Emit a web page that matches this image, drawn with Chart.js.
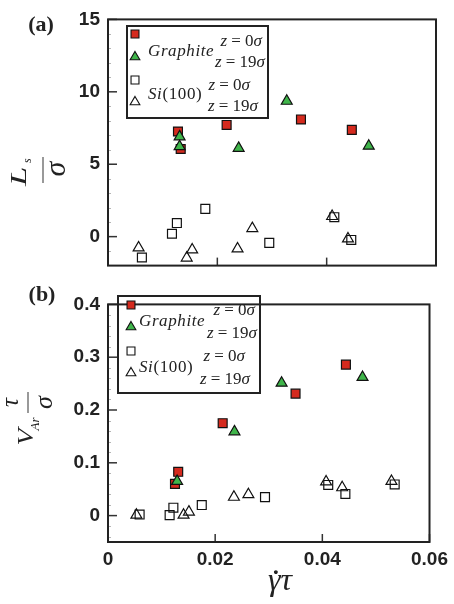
<!DOCTYPE html>
<html><head><meta charset="utf-8">
<script src="https://cdn.jsdelivr.net/npm/chart.js@4"></script>
<style>
html,body{margin:0;padding:0;background:#fff;width:454px;height:604px;overflow:hidden}
canvas{position:absolute;left:0}
#ca{top:0}
#cb{top:285px}
</style></head><body>
<canvas id="ca" width="454" height="285" style="width:454px;height:285px"></canvas>
<canvas id="cb" width="454" height="319" style="width:454px;height:319px"></canvas>
<script>
// ---------- data: panel (a) slip length L_s/sigma ----------
const grA0_x = [0.0128, 0.0133, 0.0217, 0.0353, 0.0446];
const grA0_y = [7.26, 6.05, 7.71, 8.09, 7.37];
const grA19_x = [0.0131, 0.0131, 0.0239, 0.0327, 0.0477];
const grA19_y = [6.90, 6.22, 6.11, 9.36, 6.26];
const siA0_x = [0.0062, 0.0117, 0.0126, 0.0178, 0.0295, 0.0414, 0.0445];
const siA0_y = [-1.44, 0.20, 0.94, 1.92, -0.43, 1.34, -0.23];
const siA19_x = [0.0056, 0.0144, 0.0154, 0.0237, 0.0264, 0.0410, 0.0439];
const siA19_y = [-0.77, -1.47, -0.91, -0.84, 0.57, 1.40, -0.15];
// ---------- data: panel (b) slip velocity V_Ar tau/sigma ----------
const grB0_x = [0.0125, 0.0131, 0.0214, 0.0350, 0.0444];
const grB0_y = [0.060, 0.083, 0.175, 0.231, 0.286];
const grB19_x = [0.0129, 0.0236, 0.0324, 0.0475];
const grB19_y = [0.065, 0.159, 0.251, 0.262];
const siB0_x = [0.0059, 0.0115, 0.0122, 0.0175, 0.0293, 0.0411, 0.0443, 0.0535];
const siB0_y = [0.002, 0.001, 0.015, 0.020, 0.035, 0.058, 0.041, 0.059];
const siB19_x = [0.0053, 0.0141, 0.0151, 0.0235, 0.0262, 0.0407, 0.0437, 0.0529];
const siB19_y = [0.001, 0.001, 0.007, 0.035, 0.040, 0.064, 0.053, 0.065];
// ---------- ticks ----------
const xTicks = [0, 0.02, 0.04, 0.06];
const yTicksA = [0, 5, 10, 15];
const yMinorA = [-1, 1, 2, 3, 4, 6, 7, 8, 9, 11, 12, 13, 14];
const yTicksB = [0, 0.1, 0.2, 0.3, 0.4];
const yMinorB = [-0.04, -0.02, 0.02, 0.04, 0.06, 0.08, 0.12, 0.14, 0.16, 0.18, 0.22, 0.24, 0.26, 0.28, 0.32, 0.34, 0.36, 0.38];
const legendLabels = ['Graphite', 'Si(100)', 'z = 0σ', 'z = 19σ'];

const RED = '#d52a1e', GREEN = '#3fb54a', INK = '#222';
const SERIF = '"Liberation Serif","Times New Roman",serif';
const SANS = '"Liberation Sans",Arial,sans-serif';

function pts(xs, ys){ return xs.map((x,i)=>({x:x, y:ys[i]})); }
const styles = {
  gr0:  {pointStyle:'rect', backgroundColor:RED, borderColor:'#111', order:2},
  gr19: {pointStyle:'triangle', backgroundColor:GREEN, borderColor:'#111', order:1},
  si0:  {pointStyle:'rect', backgroundColor:'rgba(0,0,0,0)', borderColor:'#111', order:4},
  si19: {pointStyle:'triangle', backgroundColor:'rgba(0,0,0,0)', borderColor:'#111', order:3}
};
function ds(key, data){
  const s = styles[key];
  return {data:data, showLine:false, pointStyle:s.pointStyle, backgroundColor:s.backgroundColor,
    borderColor:s.borderColor, pointRadius:6.3, pointBorderWidth:1.2, pointHoverRadius:6.3, order:s.order};
}

function rich(ctx, parts, x, y, align){
  let w = 0;
  parts.forEach(p=>{ ctx.font = p[1]; w += ctx.measureText(p[0]).width; });
  let cx = align==='right' ? x - w : (align==='center' ? x - w/2 : x);
  ctx.textAlign = 'left';
  parts.forEach(p=>{ ctx.font = p[1]; ctx.fillText(p[0], cx, y); cx += ctx.measureText(p[0]).width; });
}
function marker(ctx, key, x, y, r){
  const s = styles[key];
  ctx.save();
  ctx.fillStyle = s.backgroundColor; ctx.strokeStyle = s.borderColor; ctx.lineWidth = 1.1;
  if (Chart.helpers && Chart.helpers.drawPoint) {
    Chart.helpers.drawPoint(ctx, {pointStyle:s.pointStyle, radius:r, rotation:0, borderWidth:1.1}, x, y);
  } else {
    ctx.beginPath();
    if (s.pointStyle==='rect'){ const h=r*Math.SQRT1_2; ctx.rect(x-h,y-h,2*h,2*h); }
    else { ctx.moveTo(x, y-r); ctx.lineTo(x+0.866*r, y+0.5*r); ctx.lineTo(x-0.866*r, y+0.5*r); ctx.closePath(); }
    ctx.fill(); ctx.stroke();
  }
  ctx.restore();
}

const framePlugin = {
  id: 'frame',
  afterDatasetsDraw(chart, args, o){
    const ctx = chart.ctx, a = chart.chartArea, xs = chart.scales.x, ys = chart.scales.y;
    ctx.save();
    ctx.strokeStyle = '#b5b5b5'; ctx.lineWidth = 1;
    o.yMinor.forEach(v=>{ const p = Math.round(ys.getPixelForValue(v))+0.5; ctx.beginPath(); ctx.moveTo(a.left, p); ctx.lineTo(a.left+3, p); ctx.stroke(); });
    ctx.strokeStyle = '#333'; ctx.lineWidth = 1.5;
    o.yMajor.forEach(v=>{ const p = ys.getPixelForValue(v); ctx.beginPath(); ctx.moveTo(a.left, p); ctx.lineTo(a.left+9, p); ctx.stroke(); });
    o.xMajor.forEach(v=>{ const p = xs.getPixelForValue(v); ctx.beginPath(); ctx.moveTo(p, a.bottom); ctx.lineTo(p, a.bottom-8); ctx.stroke(); });
    ctx.strokeStyle = INK; ctx.lineWidth = 2;
    ctx.strokeRect(a.left, a.top, a.right-a.left, a.bottom-a.top);
    ctx.restore();
  },
  afterDraw(chart, args, o){
    const ctx = chart.ctx;
    ctx.save();
    ctx.fillStyle = INK; ctx.strokeStyle = INK;
    ctx.font = 'bold 22px ' + SERIF; ctx.textAlign = 'center'; ctx.textBaseline = 'middle';
    ctx.fillText(o.letter[0], o.letter[1], o.letter[2]);
    const L = o.legend;
    ctx.lineWidth = 2; ctx.strokeStyle = INK;
    ctx.strokeRect(L.box[0], L.box[1], L.box[2]-L.box[0], L.box[3]-L.box[1]);
    ['gr0','gr19','si0','si19'].forEach((k,i)=> marker(ctx, k, L.mx, L.my[i], 5.6));
    ctx.textBaseline = 'middle'; ctx.fillStyle = INK;
    const I = 'italic 17px ' + SERIF, R = '17px ' + SERIF;
    try { ctx.letterSpacing = '0.6px'; } catch(e){}
    rich(ctx, [[legendLabels[0], I]], L.t[0][0], L.t[0][1], 'left');
    rich(ctx, [[legendLabels[1].slice(0,2), I], [legendLabels[1].slice(2), R]], L.t[1][0], L.t[1][1], 'left');
    try { ctx.letterSpacing = '0px'; } catch(e){}
    const z0 = [['z', I], [' = 0', R], ['σ', I]], z19 = [['z', I], [' = 19', R], ['σ', I]];
    rich(ctx, z0, L.t[2][0], L.t[2][1], 'right');
    rich(ctx, z19, L.t[3][0], L.t[3][1], 'right');
    rich(ctx, z0, L.t[4][0], L.t[4][1], 'right');
    rich(ctx, z19, L.t[5][0], L.t[5][1], 'right');
    o.ytitle(ctx);
    if (o.xtitle) o.xtitle(ctx);
    ctx.restore();
  }
};

function scaleOpts(yMin, yMax, yT, showX){
  return {
    x: {type:'linear', min:0, max:0.06,
        afterBuildTicks: s => { s.ticks = xTicks.map(v=>({value:v})); },
        afterFit: s => { s.height = showX ? 62 : 13; },
        grid:{display:false, drawTicks:false}, border:{display:false},
        ticks:{display:showX, padding:6, color:INK, font:{family:SANS, size:19, weight:'bold'}, maxRotation:0,
               callback: v => String(v)}},
    y: {type:'linear', min:yMin, max:yMax,
        afterBuildTicks: s => { s.ticks = yT.map(v=>({value:v})); },
        afterFit: s => { s.width = 108; },
        grid:{display:false, drawTicks:false}, border:{display:false},
        ticks:{padding:8, color:INK, font:{family:SANS, size:19, weight:'bold'}, callback: v => String(v)}}
  };
}
const common = {responsive:false, animation:false, events:[],
  plugins:{legend:{display:false}, tooltip:{enabled:false}}};

new Chart(document.getElementById('ca'), {
  type:'scatter',
  data:{datasets:[ds('gr19', pts(grA19_x, grA19_y)), ds('gr0', pts(grA0_x, grA0_y)),
                  ds('si19', pts(siA19_x, siA19_y)), ds('si0', pts(siA0_x, siA0_y))]},
  options:Object.assign({}, common, {
    layout:{padding:{left:0, right:18, top:19, bottom:0}},
    scales: scaleOpts(-2, 15, yTicksA, false),
    plugins:{legend:{display:false}, tooltip:{enabled:false},
      frame:{yMajor:yTicksA, yMinor:yMinorA, xMajor:xTicks, letter:['(a)', 41, 25],
        legend:{box:[127,26,268,118], mx:135, my:[34,57,80,102],
          t:[[148,52],[148,95],[262,42],[265,63],[250,86],[258,107]]},
        ytitle: ctx => {
          ctx.save(); ctx.translate(43,170); ctx.rotate(-Math.PI/2);
          ctx.lineWidth = 1.2; ctx.strokeStyle = '#555';
          ctx.beginPath(); ctx.moveTo(-13,0); ctx.lineTo(13,0); ctx.stroke();
          ctx.fillStyle = INK; ctx.textAlign = 'left'; ctx.textBaseline = 'alphabetic';
          ctx.save(); ctx.translate(-16,-17); ctx.scale(1.45,1);
          ctx.font = 'italic 24px ' + SERIF; ctx.fillText('L', 0, 0); ctx.restore();
          ctx.font = 'italic 12px ' + SERIF; ctx.fillText('s', 7, -12);
          ctx.font = 'italic 30px ' + SERIF; ctx.textAlign = 'center'; ctx.fillText('σ', 1, 22);
          ctx.restore();
        }}}
  }),
  plugins:[framePlugin]
});

new Chart(document.getElementById('cb'), {
  type:'scatter',
  data:{datasets:[ds('gr19', pts(grB19_x, grB19_y)), ds('gr0', pts(grB0_x, grB0_y)),
                  ds('si19', pts(siB19_x, siB19_y)), ds('si0', pts(siB0_x, siB0_y))]},
  options:Object.assign({}, common, {
    layout:{padding:{left:0, right:18, top:5, bottom:0}},
    scales: scaleOpts(-0.05, 0.4, yTicksB, true),
    plugins:{legend:{display:false}, tooltip:{enabled:false},
      frame:{yMajor:yTicksB, yMinor:yMinorB, xMajor:xTicks, letter:['(b)', 42, 10],
        legend:{box:[118,11,260,108], mx:131, my:[20,42,66,88],
          t:[[139,37],[139,83],[255,26],[257,49],[245,72],[250,95]]},
        ytitle: ctx => {
          ctx.save(); ctx.translate(28,117.5); ctx.rotate(-Math.PI/2);
          ctx.lineWidth = 1.2; ctx.strokeStyle = '#555';
          ctx.beginPath(); ctx.moveTo(-10.5,0); ctx.lineTo(10.5,0); ctx.stroke();
          ctx.fillStyle = INK; ctx.textBaseline = 'alphabetic';
          ctx.textAlign = 'left';
          ctx.save(); ctx.translate(-43,5); ctx.scale(1.2,1);
          ctx.font = 'italic 23px ' + SERIF; ctx.fillText('V', 0, 0); ctx.restore();
          ctx.font = 'italic 13px ' + SERIF; ctx.fillText('Ar', -28, 11);
          ctx.textAlign = 'center';
          ctx.font = 'italic 25px ' + SERIF; ctx.fillText('τ', 0, -10);
          ctx.font = 'italic 26px ' + SERIF; ctx.fillText('σ', 0, 24);
          ctx.restore();
        },
        xtitle: ctx => {
          ctx.fillStyle = INK; ctx.textBaseline = 'alphabetic'; ctx.textAlign = 'left';
          ctx.font = 'italic 32px ' + SERIF;
          const g = 'γ', t = 'τ';
          const wg = ctx.measureText(g).width, wt = ctx.measureText(t).width;
          const x0 = 280 - (wg + wt)/2;
          ctx.fillText(g, x0, 305); ctx.fillText(t, x0 + wg, 305);
          ctx.font = 'bold 26px ' + SERIF; ctx.textAlign = 'center';
          ctx.fillText('˙', x0 + wg*0.62, 305 - 2);
        }}}
  }),
  plugins:[framePlugin]
});
</script>
</body></html>
